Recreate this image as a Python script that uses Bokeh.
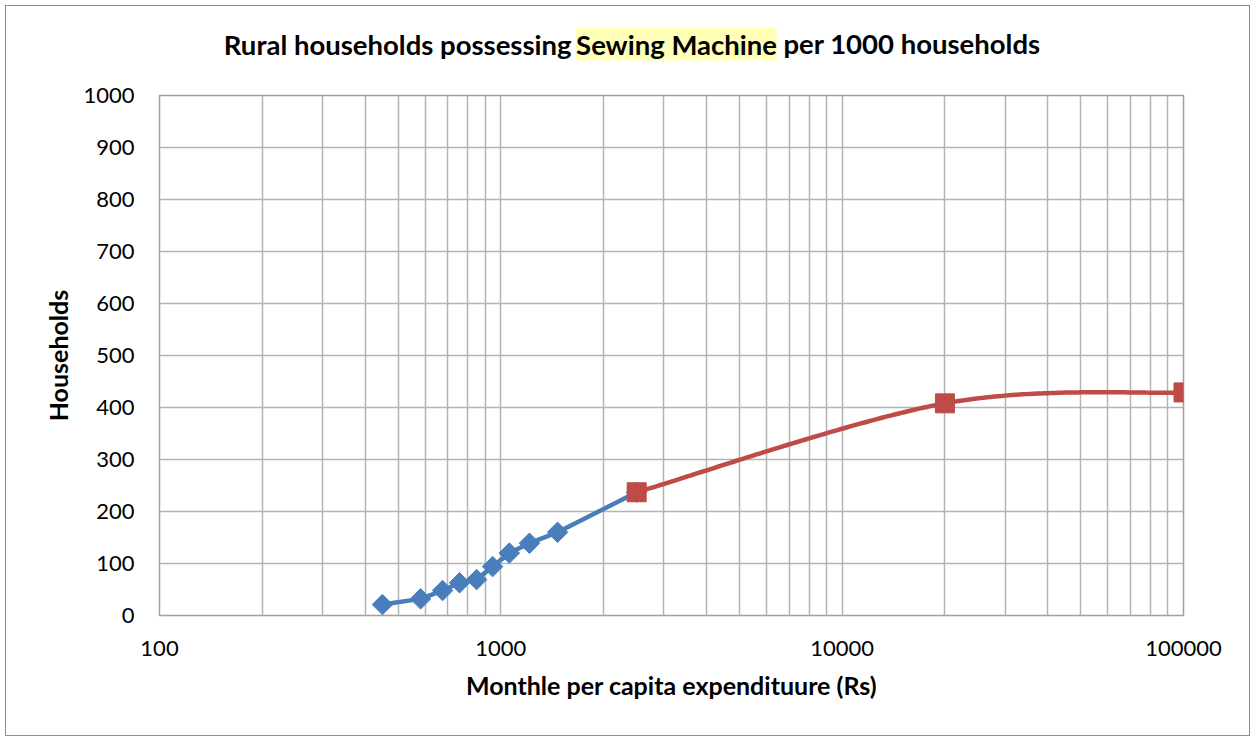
import numpy as np
from bokeh.plotting import figure
from bokeh.models import Label, FixedTicker, NumeralTickFormatter
from bokeh.embed import file_html
from bokeh.resources import INLINE

# ---------------- data ----------------
title_parts = ["Rural households possessing", "Sewing Machine", "per 1000 households"]
x_label = "Monthle per capita expendituure (Rs)"
y_label = "Households"
x_ticks = [100, 1000, 10000, 100000]
x_minor = [m * d for d in [100, 1000, 10000] for m in range(2, 10)]
y_ticks = [0, 100, 200, 300, 400, 500, 600, 700, 800, 900, 1000]

blue_x = [450, 582, 675, 757, 849, 946, 1059, 1213, 1466, 2500]
blue_y = [21, 32, 48, 63, 69, 94, 120, 139, 160, 237]
red_x = [2500, 20000, 100000]
red_y = [237, 408, 429]

BLUE = "#4a7ebb"
RED = "#be4b48"
GRID = "#b4b4b4"
FONT = "Lato"


def smooth(xs, ys, n=80):
    pts = np.column_stack([np.log10(xs), np.asarray(ys, dtype=float)])
    m = len(pts)
    ox, oy = [], []
    t = np.linspace(0, 1, n)[:, None]
    for i in range(m - 1):
        p0 = pts[max(i - 1, 0)]
        p1 = pts[i]
        p2 = pts[i + 1]
        p3 = pts[min(i + 2, m - 1)]
        c1 = p1 + (p2 - p0) / 6.0
        c2 = p2 - (p3 - p1) / 6.0
        b = ((1 - t) ** 3) * p1 + 3 * ((1 - t) ** 2) * t * c1 + 3 * (1 - t) * t ** 2 * c2 + t ** 3 * p2
        ox.extend(b[:, 0])
        oy.extend(b[:, 1])
    return list(10 ** np.array(ox)), oy


p = figure(
    x_axis_type="log",
    x_range=(100, 100000),
    y_range=(0, 1000),
    frame_width=1024,
    frame_height=520,
    min_border_left=153,
    min_border_right=66,
    min_border_top=89,
    min_border_bottom=110,
    output_backend="svg",
    toolbar_location=None,
    title_location=None,
    background_fill_color="white",
    border_fill_color="white",
)
p.styles = {"border": "1px solid #8c8c8c", "margin-left": "5px", "margin-top": "5px"}

p.outline_line_color = "#a0a0a0"
p.outline_line_width = 1.5

# axes
p.xaxis.ticker = FixedTicker(ticks=x_ticks)
p.xaxis.formatter = NumeralTickFormatter(format="0")
p.yaxis.ticker = FixedTicker(ticks=y_ticks)
for ax in (p.xaxis[0], p.yaxis[0]):
    ax.axis_line_color = None
    ax.major_tick_line_color = None
    ax.minor_tick_line_color = None
    ax.major_label_text_font = FONT
    ax.major_label_text_font_size = "22px"
    ax.major_label_text_color = "black"
    ax.axis_label_text_font = FONT
    ax.axis_label_text_font_size = "25px"
    ax.axis_label_text_font_style = "bold"
    ax.axis_label_text_color = "black"
p.xaxis.axis_label = x_label
p.yaxis.axis_label = y_label
p.xaxis.major_label_standoff = 19
p.xaxis.axis_label_standoff = 11
p.yaxis.major_label_standoff = 19
p.yaxis.axis_label_standoff = 7

# grids
p.xgrid.ticker = FixedTicker(ticks=x_ticks + x_minor)
p.ygrid.ticker = FixedTicker(ticks=y_ticks)
for g in (p.xgrid[0], p.ygrid[0]):
    g.grid_line_color = GRID
    g.grid_line_width = 1.5

# blue series
p.line(blue_x, blue_y, line_color=BLUE, line_width=4.5)
p.scatter(blue_x, blue_y, marker="square", angle=np.pi / 4, size=14.5,
          fill_color=BLUE, line_color=BLUE)

# red series (smoothed)
sx, sy = smooth(red_x, red_y)
p.line(sx, sy, line_color=RED, line_width=4.5)
p.scatter(red_x, red_y, marker="square", size=19, fill_color=RED, line_color=RED)

# title in three parts (middle part highlighted); placed in side panels
common = dict(x_units="screen", y_units="screen", text_font=FONT,
              text_font_size="27.5px", text_font_style="bold", text_color="black",
              text_baseline="middle")
p.add_layout(Label(x=412, y=51, text=title_parts[0], text_align="right", **common), "above")
p.add_layout(Label(x=517, y=18.5, text=title_parts[1], text_align="center",
                   background_fill_color="#ffff00", background_fill_alpha=0.28, **common), "above")
p.add_layout(Label(x=624, y=692, text=title_parts[2], text_align="left", **common), "below")

open("out.html", "w").write(file_html(p, INLINE))
